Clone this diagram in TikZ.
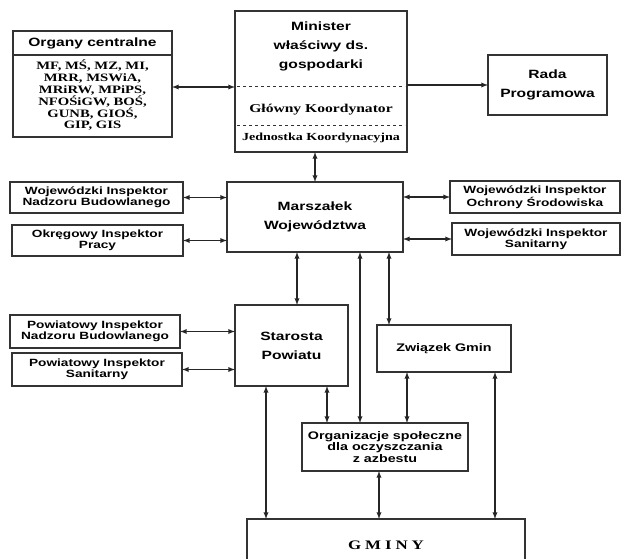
\documentclass[tikz,border=0pt]{standalone}
\usepackage{fontspec}
\setmainfont{Liberation Serif}[FakeStretch=1.3]
\newfontfamily\arialx{Liberation Sans}[FakeStretch=1.3]
\usetikzlibrary{arrows,positioning}

\tikzset{
  BoxStyle/.style={draw=black!80, line width=1.2pt, inner sep=0pt, outer sep=0pt, align=center},
  EdgeStyle/.style={latex-latex, line width=1.3pt, draw=black!85},
  SansBig/.style={font=\arialx\bfseries\fontsize{12}{19}\selectfont},
  SansSmall/.style={font=\arialx\bfseries\fontsize{10.5}{10.5}\selectfont},
  SansMid/.style={font=\arialx\bfseries\fontsize{11}{11.5}\selectfont},
  SerifBold/.style={font=\bfseries\fontsize{11.3}{11.8}\selectfont},
}

\begin{document}
\begin{tikzpicture}[x=1pt,y=-1pt]
		\useasboundingbox (0,0) rectangle (622,559);
		\clip (0,0) rectangle (622,559);
		% top row
		\node[BoxStyle, minimum width=159, minimum height=106] (organy) at (92.5,84) {};
		\node[SansBig] (organyhead) at (92.5,43) {Organy centralne};
		\node[SerifBold, align=center] (organylist) at (92.5,95.5)
			{MF, MŚ, MZ, MI,\\MRR, MSWiA,\\MRiRW, MPiPS,\\NFOŚiGW, BOŚ,\\GUNB, GIOŚ,\\GIP, GIS};
		\draw[black!80, line width=1.2pt] (organy.west |- 0,55) -- (organy.east |- 0,55);

		\node[BoxStyle, minimum width=172, minimum height=141] (minister) at (321,81.5) {};
		\node[SansBig, align=center] (mintxt) at (321,46) {Minister\\właściwy ds.\\gospodarki};
		\node[font=\bfseries\fontsize{12}{12}\selectfont] (glowny) at (321,110) {Główny Koordynator};
		\node[font=\bfseries\fontsize{10.8}{11}\selectfont] (jednostka) at (321,138) {Jednostka Koordynacyjna};
		\draw[dashed, black!80] ([xshift=2pt]minister.west |- 0,86) -- ([xshift=-2pt]minister.east |- 0,86);
		\draw[dashed, black!80] ([xshift=2pt]minister.west |- 0,125) -- ([xshift=-2pt]minister.east |- 0,125);

		\node[BoxStyle, SansBig, minimum width=119, minimum height=60] (rada) at (547.5,85) {Rada\\Programowa};

		% wojewodztwo
		\node[BoxStyle, SansBig, minimum width=176, minimum height=70] (marszalek) at (315,217) {Marszałek\\Województwa};
		\node[BoxStyle, SansSmall, minimum width=173, minimum height=31] (winb) at (96.5,197.5) {Wojewódzki Inspektor\\Nadzoru Budowlanego};
		\node[BoxStyle, SansSmall, minimum width=171, minimum height=31] (oip) at (97.5,240.5) {Okręgowy Inspektor\\Pracy};
		\node[BoxStyle, SansSmall, minimum width=170, minimum height=32] (wios) at (535,197) {Wojewódzki Inspektor\\Ochrony Środowiska};
		\node[BoxStyle, SansSmall, minimum width=168, minimum height=32] (wis) at (536,239) {Wojewódzki Inspektor\\Sanitarny};

		% powiat
		\node[BoxStyle, SansBig, minimum width=113, minimum height=81] (starosta) at (291.5,345.5) {Starosta\\Powiatu};
		\node[BoxStyle, SansSmall, minimum width=170, minimum height=33] (pinb) at (95,331.5) {Powiatowy Inspektor\\Nadzoru Budowlanego};
		\node[BoxStyle, SansSmall, minimum width=170, minimum height=33] (pis) at (97,369.5) {Powiatowy Inspektor\\Sanitarny};
		\node[BoxStyle, SansMid, minimum width=134, minimum height=47] (zwiazek) at (444,348.5) {Związek Gmin};
		\node[BoxStyle, SansMid, minimum width=166, minimum height=48] (organizacje) at (385,447) {Organizacje społeczne\\dla oczyszczania\\z azbestu};
		\node[BoxStyle, minimum width=278, minimum height=56] (gminy) at (386,547) {};
		\node[font=\bfseries\fontsize{13}{14}\selectfont\addfontfeature{LetterSpace=30}] (gminytxt) at (386,545) {GMINY};

		% connections
		\draw[EdgeStyle] ([yshift=-3pt]organy.east) -- ([yshift=-3pt]organy.east -| minister.west);
		\draw[-latex, line width=1.3pt, black!85] (minister.east |- rada.west) -- (rada.west);
		\draw[EdgeStyle] (minister.south -| marszalek.north) -- (marszalek.north);
		\draw[EdgeStyle] (winb.east) -- (winb.east -| marszalek.west);
		\draw[EdgeStyle] (oip.east) -- (oip.east -| marszalek.west);
		\draw[EdgeStyle] (wios.west -| marszalek.east) -- (wios.west);
		\draw[EdgeStyle] (wis.west -| marszalek.east) -- (wis.west);
		\draw[EdgeStyle] ([xshift=5.5pt]starosta.north |- marszalek.south) -- ([xshift=5.5pt]starosta.north);
		\draw[EdgeStyle] (pinb.east) -- (pinb.east -| starosta.west);
		\draw[EdgeStyle] (pis.east) -- (pis.east -| starosta.west);
		\draw[EdgeStyle] ([xshift=-25pt]organizacje.north |- marszalek.south) -- ([xshift=-25pt]organizacje.north);
		\draw[EdgeStyle] ([xshift=-55pt]zwiazek.north |- marszalek.south) -- ([xshift=-55pt]zwiazek.north);
		\draw[EdgeStyle] ([xshift=35.5pt]starosta.south) -- ([xshift=35.5pt]starosta.south |- organizacje.north);
		\draw[EdgeStyle] ([xshift=-37pt]zwiazek.south) -- ([xshift=-37pt]zwiazek.south |- organizacje.north);
		\draw[EdgeStyle] ([xshift=-6pt]organizacje.south) -- ([xshift=-6pt]organizacje.south |- gminy.north);
		\draw[EdgeStyle] ([xshift=51pt]zwiazek.south) -- ([xshift=51pt]zwiazek.south |- gminy.north);
		\draw[EdgeStyle] ([xshift=-25.5pt]starosta.south) -- ([xshift=-25.5pt]starosta.south |- gminy.north);
	\end{tikzpicture}
\end{document}
